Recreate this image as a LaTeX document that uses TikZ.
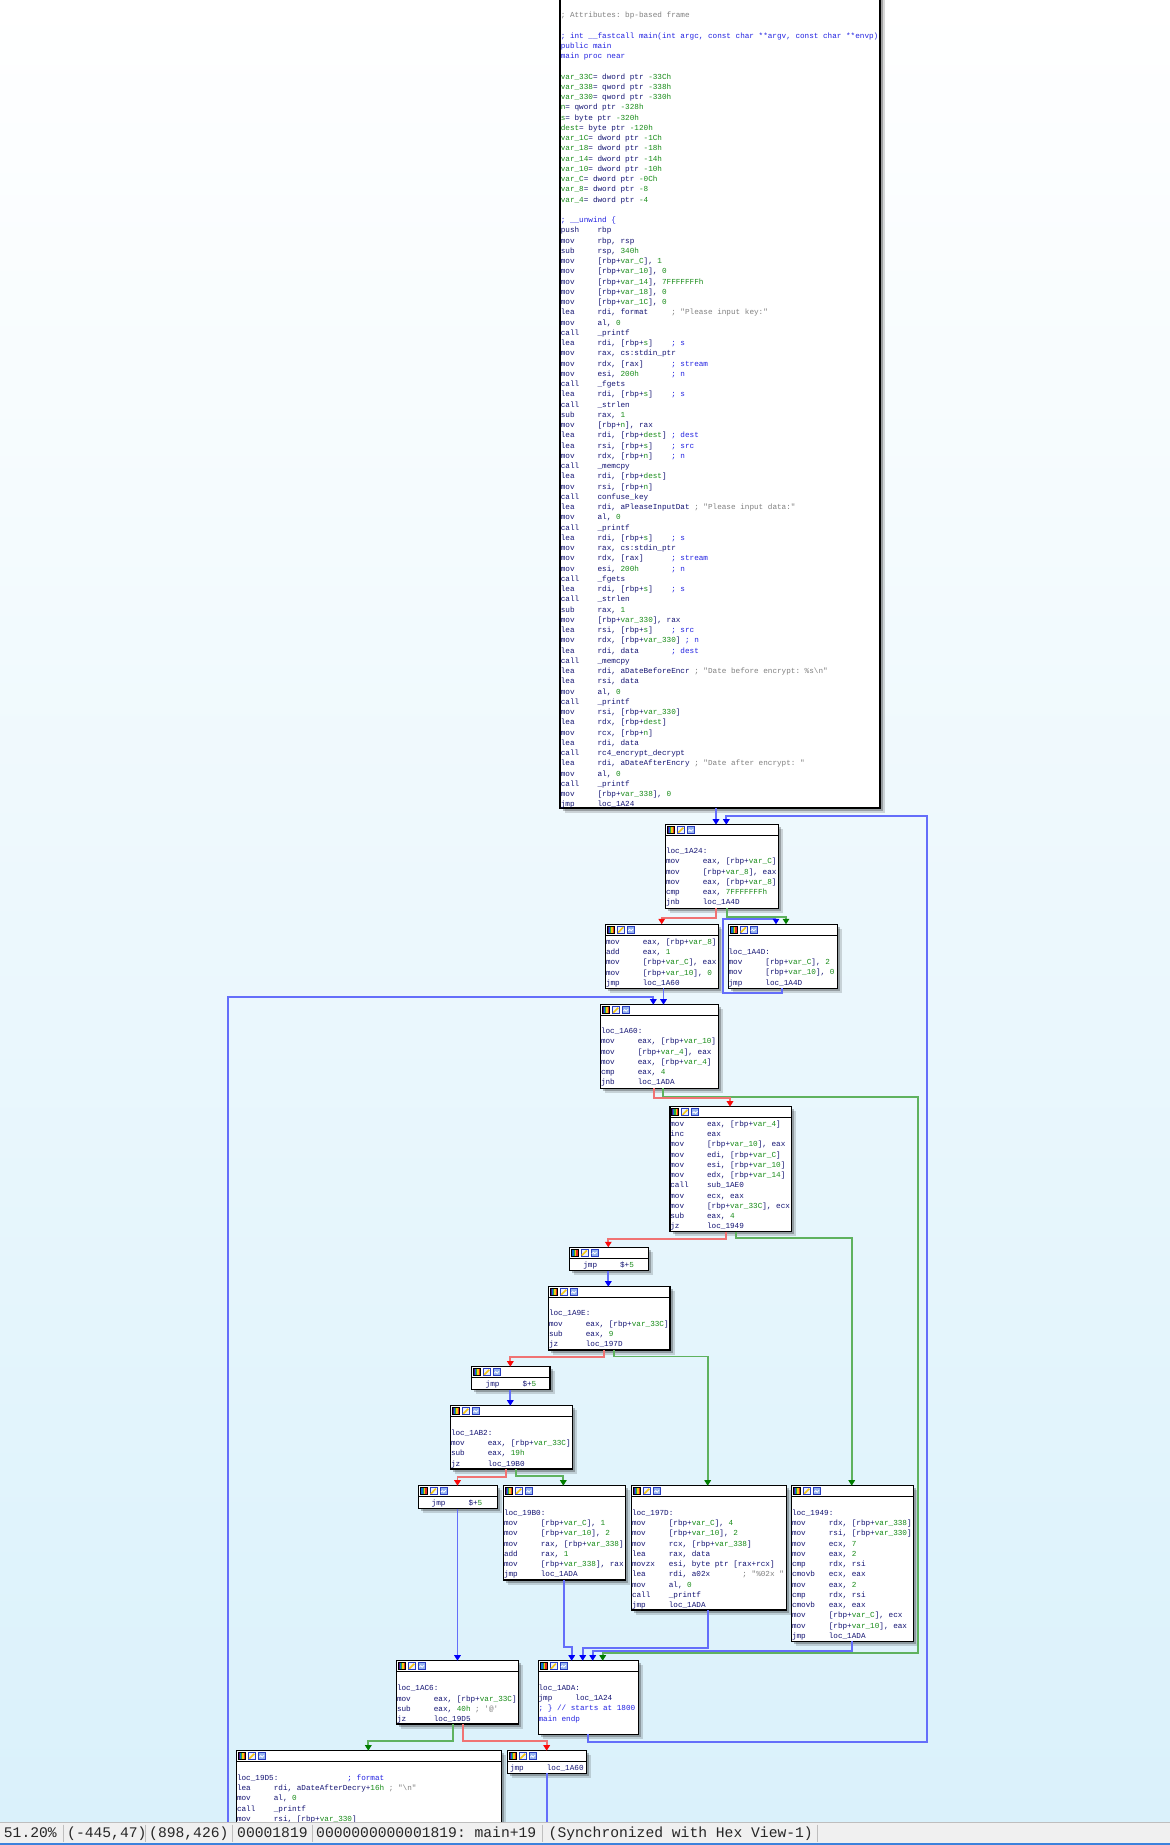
\documentclass[tikz,border=0pt]{standalone}
\usepackage{fontspec}
\setmonofont{Liberation Mono}
\usetikzlibrary{arrows.meta}
\definecolor{cnavy}{RGB}{20,20,115}
\definecolor{cnum}{RGB}{25,140,25}
\definecolor{ccmt}{RGB}{128,128,128}
\definecolor{cblu}{RGB}{35,35,225}
\definecolor{bgblue}{RGB}{218,241,251}
\definecolor{lred}{RGB}{240,115,115}
\definecolor{lgrn}{RGB}{95,178,95}
\definecolor{lblu}{RGB}{100,110,250}
\definecolor{tred}{RGB}{250,10,10}
\definecolor{tgrn}{RGB}{0,125,0}
\definecolor{tblu}{RGB}{0,0,250}
\definecolor{sbbg}{RGB}{240,240,240}
\definecolor{sbsep}{RGB}{190,190,190}
\definecolor{sbblue}{RGB}{60,130,220}
\definecolor{icp}{RGB}{80,20,140}
\definecolor{icb}{RGB}{20,110,220}
\definecolor{icg}{RGB}{40,170,60}
\definecolor{icy}{RGB}{245,200,20}
\definecolor{icr}{RGB}{230,50,40}
\definecolor{icw}{RGB}{235,240,255}
\definecolor{icbl}{RGB}{40,60,190}
\definecolor{iclb}{RGB}{150,180,240}
\newlength\chw \setlength\chw{4.6025pt}
\newcommand\Mn[1]{\makebox[8\chw][l]{#1}}
\newcommand\Gn[1]{\textcolor{cnum}{#1}}
\newcommand\Cg[1]{\textcolor{ccmt}{#1}}
\newcommand\Cb[1]{\textcolor{cblu}{#1}}
\newcommand\Sp[1]{\hspace*{#1\chw}}
\newcommand\idatext{\ttfamily\fontsize{7.67pt}{10.25pt}\selectfont\frenchspacing}
\newcommand\sbtext{\ttfamily\fontsize{14.67pt}{16pt}\selectfont\frenchspacing}
\tikzset{
 blockbox/.style={draw=black, line width=1.2pt, fill=white, inner sep=0pt, outer sep=0pt, rectangle, anchor=north west},
 txt/.style={anchor=north west, inner sep=0pt, outer sep=0pt, align=left, font=\idatext, text=cnavy},
 ered/.style={draw=lred, line width=1.7pt, -{Triangle[width=6.5pt,length=5.5pt,color=tred]}},
 egrn/.style={draw=lgrn, line width=1.7pt, -{Triangle[width=6.5pt,length=5.5pt,color=tgrn]}},
 eblu/.style={draw=lblu, line width=1.7pt, -{Triangle[width=6.5pt,length=5.5pt,color=tblu]}},
 sbt/.style={anchor=base west, inner sep=0pt, font=\sbtext, text=black!85},
 hdricons/.pic={
  \foreach \k/\icol in {0/icp,1.4/icb,2.8/icg,4.2/icy,5.6/icr} {\fill[\icol] (\k,0) rectangle ++(1.4,7);}
  \draw[black,line width=0.5pt] (0,0) rectangle (7,7);
  \fill[icw] (10,0) rectangle (17,7);
  \draw[icbl, line width=0.5pt] (10,0) rectangle (17,7);
  \draw[icy, line width=1.6pt] (11,6.2) -- (16,1);
  \draw[icbl, line width=0.6pt] (11,6.5) -- (12.5,6.5);
  \fill[iclb] (20,0) rectangle (27,7);
  \draw[icbl, line width=0.5pt] (20,0) rectangle (27,7);
  \draw[white, line width=0.8pt] (21,4.5) -- (22.5,3) -- (24,4.5) -- (26,2.5);
 }
}
\newcommand\blk[5]{%
 \fill[black,opacity=0.15] ({#2+4.5},{#3+4.5}) rectangle ({#4+4.5},{#5+4.5});
 \fill[black,opacity=0.25] ({#2+2.5},{#3+2.5}) rectangle ({#4+2.5},{#5+2.5});
 \node[blockbox, minimum width={#4-#2}, minimum height={#5-#3}] (#1) at (#2,#3) {};
 \draw[line width=1pt] ([yshift=-11pt]#1.north west) -- ([yshift=-11pt]#1.north east);
 \pic at ([shift={(1.5,2)}]#1.north west) {hdricons};
}
\begin{document}
\begin{tikzpicture}[x=1pt,y=-1pt]
\useasboundingbox (0,0) rectangle (1170,1845);
\clip (0,0) rectangle (1170,1845);
\shade[top color=white, bottom color=bgblue] (0,0) rectangle (1170,1822);

% ---------- blocks ----------
\blk{T}{560}{-30}{880}{808}
\node[txt] (Tt) at (560.8,10.4) {\strut\Cg{; Attributes: bp-based frame}\\
\strut\\
\Cb{; int \_\_fastcall main(int argc, const char **argv, const char **envp)}\\
\Cb{public main}\\
\Cb{main proc near}\\
\strut\\
\Gn{var\_33C}= dword ptr \Gn{-33Ch}\\
\Gn{var\_338}= qword ptr \Gn{-338h}\\
\Gn{var\_330}= qword ptr \Gn{-330h}\\
\Gn{n}= qword ptr \Gn{-328h}\\
\Gn{s}= byte ptr \Gn{-320h}\\
\Gn{dest}= byte ptr \Gn{-120h}\\
\Gn{var\_1C}= dword ptr \Gn{-1Ch}\\
\Gn{var\_18}= dword ptr \Gn{-18h}\\
\Gn{var\_14}= dword ptr \Gn{-14h}\\
\Gn{var\_10}= dword ptr \Gn{-10h}\\
\Gn{var\_C}= dword ptr \Gn{-0Ch}\\
\Gn{var\_8}= dword ptr \Gn{-8}\\
\Gn{var\_4}= dword ptr \Gn{-4}\\
\strut\\
\Cb{; \_\_unwind \{}\\
\Mn{push}rbp\\
\Mn{mov}rbp, rsp\\
\Mn{sub}rsp, \Gn{340h}\\
\Mn{mov}[rbp+\Gn{var\_C}], \Gn{1}\\
\Mn{mov}[rbp+\Gn{var\_10}], \Gn{0}\\
\Mn{mov}[rbp+\Gn{var\_14}], \Gn{7FFFFFFFh}\\
\Mn{mov}[rbp+\Gn{var\_18}], \Gn{0}\\
\Mn{mov}[rbp+\Gn{var\_1C}], \Gn{0}\\
\Mn{lea}rdi, format\Sp{5}\Cg{; "Please input key:"}\\
\Mn{mov}al, \Gn{0}\\
\Mn{call}\_printf\\
\Mn{lea}rdi, [rbp+\Gn{s}]\Sp{4}\Cb{; s}\\
\Mn{mov}rax, cs:stdin\_ptr\\
\Mn{mov}rdx, [rax]\Sp{6}\Cb{; stream}\\
\Mn{mov}esi, \Gn{200h}\Sp{7}\Cb{; n}\\
\Mn{call}\_fgets\\
\Mn{lea}rdi, [rbp+\Gn{s}]\Sp{4}\Cb{; s}\\
\Mn{call}\_strlen\\
\Mn{sub}rax, \Gn{1}\\
\Mn{mov}[rbp+\Gn{n}], rax\\
\Mn{lea}rdi, [rbp+\Gn{dest}]\Sp{1}\Cb{; dest}\\
\Mn{lea}rsi, [rbp+\Gn{s}]\Sp{4}\Cb{; src}\\
\Mn{mov}rdx, [rbp+\Gn{n}]\Sp{4}\Cb{; n}\\
\Mn{call}\_memcpy\\
\Mn{lea}rdi, [rbp+\Gn{dest}]\\
\Mn{mov}rsi, [rbp+\Gn{n}]\\
\Mn{call}confuse\_key\\
\Mn{lea}rdi, aPleaseInputDat\Sp{1}\Cg{; "Please input data:"}\\
\Mn{mov}al, \Gn{0}\\
\Mn{call}\_printf\\
\Mn{lea}rdi, [rbp+\Gn{s}]\Sp{4}\Cb{; s}\\
\Mn{mov}rax, cs:stdin\_ptr\\
\Mn{mov}rdx, [rax]\Sp{6}\Cb{; stream}\\
\Mn{mov}esi, \Gn{200h}\Sp{7}\Cb{; n}\\
\Mn{call}\_fgets\\
\Mn{lea}rdi, [rbp+\Gn{s}]\Sp{4}\Cb{; s}\\
\Mn{call}\_strlen\\
\Mn{sub}rax, \Gn{1}\\
\Mn{mov}[rbp+\Gn{var\_330}], rax\\
\Mn{lea}rsi, [rbp+\Gn{s}]\Sp{4}\Cb{; src}\\
\Mn{mov}rdx, [rbp+\Gn{var\_330}]\Sp{1}\Cb{; n}\\
\Mn{lea}rdi, data\Sp{7}\Cb{; dest}\\
\Mn{call}\_memcpy\\
\Mn{lea}rdi, aDateBeforeEncr\Sp{1}\Cg{; "Date before encrypt: \%s\textbackslash n"}\\
\Mn{lea}rsi, data\\
\Mn{mov}al, \Gn{0}\\
\Mn{call}\_printf\\
\Mn{mov}rsi, [rbp+\Gn{var\_330}]\\
\Mn{lea}rdx, [rbp+\Gn{dest}]\\
\Mn{mov}rcx, [rbp+\Gn{n}]\\
\Mn{lea}rdi, data\\
\Mn{call}rc4\_encrypt\_decrypt\\
\Mn{lea}rdi, aDateAfterEncry\Sp{1}\Cg{; "Date after encrypt: "}\\
\Mn{mov}al, \Gn{0}\\
\Mn{call}\_printf\\
\Mn{mov}[rbp+\Gn{var\_338}], \Gn{0}\\
\Mn{jmp}loc\_1A24};

\blk{B1A24}{665.7}{824.7}{778.3}{908.3}
\node[txt] (B1A24t) at (666,846.4) {\strut loc\_1A24:\\
\Mn{mov}eax, [rbp+\Gn{var\_C}]\\
\Mn{mov}[rbp+\Gn{var\_8}], eax\\
\Mn{mov}eax, [rbp+\Gn{var\_8}]\\
\Mn{cmp}eax, \Gn{7FFFFFFFh}\\
\Mn{jnb}loc\_1A4D};

\blk{BL}{605.7}{924.3}{718.3}{988.3}
\node[txt] (BLt) at (606,937.1) {\strut\Mn{mov}eax, [rbp+\Gn{var\_8}]\\
\Mn{add}eax, \Gn{1}\\
\Mn{mov}[rbp+\Gn{var\_C}], eax\\
\Mn{mov}[rbp+\Gn{var\_10}], \Gn{0}\\
\Mn{jmp}loc\_1A60};

\blk{B1A4D}{728.3}{924.3}{837.7}{988.3}
\node[txt] (B1A4Dt) at (728.6,947.1) {\strut loc\_1A4D:\\
\Mn{mov}[rbp+\Gn{var\_C}], \Gn{2}\\
\Mn{mov}[rbp+\Gn{var\_10}], \Gn{0}\\
\Mn{jmp}loc\_1A4D};

\blk{B1A60}{600.7}{1004.7}{718.3}{1088.3}
\node[txt] (B1A60t) at (601,1026.4) {\strut loc\_1A60:\\
\Mn{mov}eax, [rbp+\Gn{var\_10}]\\
\Mn{mov}[rbp+\Gn{var\_4}], eax\\
\Mn{mov}eax, [rbp+\Gn{var\_4}]\\
\Mn{cmp}eax, \Gn{4}\\
\Mn{jnb}loc\_1ADA};

\blk{BC}{670}{1106.7}{791.3}{1231.7}
\node[txt] (BCt) at (670.3,1119.1) {\strut\Mn{mov}eax, [rbp+\Gn{var\_4}]\\
\Mn{inc}eax\\
\Mn{mov}[rbp+\Gn{var\_10}], eax\\
\Mn{mov}edi, [rbp+\Gn{var\_C}]\\
\Mn{mov}esi, [rbp+\Gn{var\_10}]\\
\Mn{mov}edx, [rbp+\Gn{var\_14}]\\
\Mn{call}sub\_1AE0\\
\Mn{mov}ecx, eax\\
\Mn{mov}[rbp+\Gn{var\_33C}], ecx\\
\Mn{sub}eax, \Gn{4}\\
\Mn{jz}loc\_1949};

\blk{BJ1}{569.3}{1247.3}{648.3}{1270.5}
\node[txt] (BJ1t) at (583.3,1260.1) {\strut\Mn{jmp}\$+\Gn{5}};

\blk{B1A9E}{548.7}{1286.7}{670}{1350}
\node[txt] (B1A9Et) at (549,1308.7) {\strut loc\_1A9E:\\
\Mn{mov}eax, [rbp+\Gn{var\_33C}]\\
\Mn{sub}eax, \Gn{9}\\
\Mn{jz}loc\_197D};

\blk{BJ2}{471.7}{1366.7}{550}{1389.5}
\node[txt] (BJ2t) at (485.7,1379.4) {\strut\Mn{jmp}\$+\Gn{5}};

\blk{B1AB2}{450.7}{1405.7}{572.3}{1469}
\node[txt] (B1AB2t) at (451,1428.1) {\strut loc\_1AB2:\\
\Mn{mov}eax, [rbp+\Gn{var\_33C}]\\
\Mn{sub}eax, \Gn{19h}\\
\Mn{jz}loc\_19B0};

\blk{BJ3}{418.3}{1485.7}{497.3}{1508.5}
\node[txt] (BJ3t) at (431.7,1498.1) {\strut\Mn{jmp}\$+\Gn{5}};

\blk{B19B0}{503.7}{1485.7}{625.3}{1580}
\node[txt] (B19B0t) at (504,1508.1) {\strut loc\_19B0:\\
\Mn{mov}[rbp+\Gn{var\_C}], \Gn{1}\\
\Mn{mov}[rbp+\Gn{var\_10}], \Gn{2}\\
\Mn{mov}rax, [rbp+\Gn{var\_338}]\\
\Mn{add}rax, \Gn{1}\\
\Mn{mov}[rbp+\Gn{var\_338}], rax\\
\Mn{jmp}loc\_1ADA};

\blk{B197D}{631.7}{1485.7}{786.7}{1610}
\node[txt] (B197Dt) at (632,1508.1) {\strut loc\_197D:\\
\Mn{mov}[rbp+\Gn{var\_C}], \Gn{4}\\
\Mn{mov}[rbp+\Gn{var\_10}], \Gn{2}\\
\Mn{mov}rcx, [rbp+\Gn{var\_338}]\\
\Mn{lea}rax, data\\
\Mn{movzx}esi, byte ptr [rax+rcx]\\
\Mn{lea}rdi, a02x\Sp{7}\Cg{; "\%02x~"}\\
\Mn{mov}al, \Gn{0}\\
\Mn{call}\_printf\\
\Mn{jmp}loc\_1ADA};

\blk{B1949}{791.7}{1485.7}{913.7}{1641.3}
\node[txt] (B1949t) at (792,1508.1) {\strut loc\_1949:\\
\Mn{mov}rdx, [rbp+\Gn{var\_338}]\\
\Mn{mov}rsi, [rbp+\Gn{var\_330}]\\
\Mn{mov}ecx, \Gn{7}\\
\Mn{mov}eax, \Gn{2}\\
\Mn{cmp}rdx, rsi\\
\Mn{cmovb}ecx, eax\\
\Mn{mov}eax, \Gn{2}\\
\Mn{cmp}rdx, rsi\\
\Mn{cmovb}eax, eax\\
\Mn{mov}[rbp+\Gn{var\_C}], ecx\\
\Mn{mov}[rbp+\Gn{var\_10}], eax\\
\Mn{jmp}loc\_1ADA};

\blk{B1AC6}{396.7}{1660.7}{518.3}{1724}
\node[txt] (B1AC6t) at (397,1683.7) {\strut loc\_1AC6:\\
\Mn{mov}eax, [rbp+\Gn{var\_33C}]\\
\Mn{sub}eax, \Gn{40h} \Cg{; '@'}\\
\Mn{jz}loc\_19D5};

\blk{B1ADA}{538.3}{1660.7}{638.3}{1734.3}
\node[txt] (B1ADAt) at (538.6,1683.1) {\strut loc\_1ADA:\\
\Mn{jmp}loc\_1A24\\
\Cb{; \} // starts at 1800}\\
\Cb{main endp}};

\blk{B19D5}{236.7}{1750.7}{501.7}{1900}
\node[txt] (B19D5t) at (237,1773.1) {\strut loc\_19D5:\Sp{15}\Cb{; format}\\
\Mn{lea}rdi, aDateAfterDecry+\Gn{16h} \Cg{; "\textbackslash n"}\\
\Mn{mov}al, \Gn{0}\\
\Mn{call}\_printf\\
\Mn{mov}rsi, [rbp+\Gn{var\_330}]};

\blk{BJ4}{507.7}{1750.7}{586.7}{1773.3}
\node[txt] (BJ4t) at (510,1763.1) {\strut\Mn{jmp}loc\_1A60};

% ---------- connectors ----------
\draw[eblu] ([xshift=156pt]T.south west) -- ([xshift=50.3pt]B1A24.north west);
\draw[egrn] ([xshift=61.3pt]B1A24.south west) -- ++(0,8.4) -| ([xshift=57.7pt]B1A4D.north west);
\draw[ered] ([xshift=50.6pt]B1A24.south west) -- ++(0,9.4) -| ([xshift=56pt]BL.north west);
\draw[eblu] ([xshift=53.4pt]B1A4D.south west) -- ++(0,5) -- ++(-58.4,0) -- ++(0,-74) -| ([xshift=47.7pt]B1A4D.north west);
\draw[eblu] ([xshift=57.8pt]BL.south west) -- ([xshift=62.8pt]B1A60.north west);
\draw[eblu] ([xshift=39.3pt]BJ4.south west) -- ++(0,126.7) -- ++(-319,0) -- ++(0,-902.7) -| ([xshift=52.6pt]B1A60.north west);
\draw[egrn] ([xshift=62.6pt]B1A60.south west) -- ++(0,8.4) -- ++(255,0) -- ++(0,556) -| ([xshift=64.4pt]B1ADA.north west);
\draw[ered] ([xshift=53.3pt]B1A60.south west) -- ++(0,10) -| ([xshift=60pt]BC.north west);
\draw[egrn] ([xshift=66.3pt]BC.south west) -- ++(0,6) -| ([xshift=60pt]B1949.north west);
\draw[ered] ([xshift=56.3pt]BC.south west) -- ++(0,7) -| ([xshift=39pt]BJ1.north west);
\draw[eblu] ([xshift=39pt]BJ1.south west) -- ([xshift=59.6pt]B1A9E.north west);
\draw[egrn] ([xshift=65pt]B1A9E.south west) -- ++(0,6.5) -| ([xshift=76pt]B197D.north west);
\draw[ered] ([xshift=55.3pt]B1A9E.south west) -- ++(0,7.3) -| ([xshift=38.6pt]BJ2.north west);
\draw[eblu] ([xshift=38.6pt]BJ2.south west) -- ([xshift=59.6pt]B1AB2.north west);
\draw[egrn] ([xshift=65.3pt]B1AB2.south west) -- ++(0,7) -| ([xshift=59.6pt]B19B0.north west);
\draw[ered] ([xshift=55pt]B1AB2.south west) -- ++(0,8) -| ([xshift=39.2pt]BJ3.north west);
\draw[eblu] ([xshift=39.2pt]BJ3.south west) -- ([xshift=60.8pt]B1AC6.north west);
\draw[eblu] ([xshift=60.3pt]B19B0.south west) -- ++(0,66.7) -| ([xshift=33.4pt]B1ADA.north west);
\draw[eblu] ([xshift=76pt]B197D.south west) -- ++(0,37.7) -| ([xshift=44.4pt]B1ADA.north west);
\draw[eblu] ([xshift=60.6pt]B1949.south west) -- ++(0,9.7) -| ([xshift=54.4pt]B1ADA.north west);
\draw[eblu] ([xshift=50pt]B1ADA.south west) -- ++(0,7.4) -- ++(338.4,0) -- ++(0,-925.7) -| ([xshift=60.6pt]B1A24.north west);
\draw[egrn] ([xshift=56.3pt]B1AC6.south west) -- ++(0,17) -| ([xshift=131.6pt]B19D5.north west);
\draw[ered] ([xshift=66pt]B1AC6.south west) -- ++(0,17) -| ([xshift=39pt]BJ4.north west);

% ---------- status bar ----------
\fill[sbbg] (0,1822) rectangle (1170,1845);
\draw[sbsep, line width=0.8pt] (0,1822.4) -- (1170,1822.4);
\draw[sbblue, line width=1.6pt] (0,1844.2) -- (1170,1844.2);
\foreach \sx in {63.4,145.5,232.8,312,542.5,817} {\draw[sbsep, line width=1pt] (\sx,1824.5) -- (\sx,1841.5);}
\node[sbt] (sb1) at (3.7,1837.5) {51.20\%};
\node[sbt] (sb2) at (67,1837.5) {(-445,47)};
\node[sbt] (sb3) at (149,1837.5) {(898,426)};
\node[sbt] (sb4) at (237,1837.5) {00001819};
\node[sbt] (sb5) at (316,1837.5) {0000000000001819: main+19};
\node[sbt] (sb6) at (548.5,1837.5) {(Synchronized with Hex View-1)};
\end{tikzpicture}
\end{document}
